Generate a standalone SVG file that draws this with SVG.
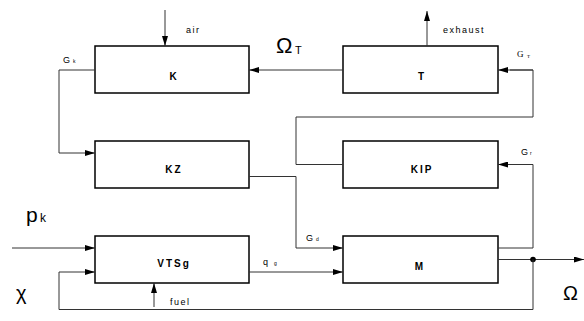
<svg xmlns="http://www.w3.org/2000/svg" width="584" height="321" viewBox="0 0 584 321">
<defs>
<marker id="ah" viewBox="0 0 10 6" refX="10" refY="3" markerWidth="10" markerHeight="6" markerUnits="userSpaceOnUse" orient="auto">
<path d="M0,0 L10,3 L0,6 Z" fill="#000"/>
</marker>
</defs>
<style>
.box{fill:#fff;stroke:#000;stroke-width:1.5}
.lbl{font-family:"Liberation Sans",Arial,sans-serif;font-size:10px;font-weight:bold;letter-spacing:2px;text-anchor:middle;fill:#000}
.ln{fill:none;stroke:#333;stroke-width:1}
.arr{fill:none;stroke:#333;stroke-width:1;marker-end:url(#ah)}
.sm{font-family:"Liberation Sans",Arial,sans-serif;font-size:9px;letter-spacing:1.5px;fill:#000}
.sub{font-family:"Liberation Sans",Arial,sans-serif;font-size:5px;fill:#000}
.big{font-family:"Liberation Sans",Arial,sans-serif;font-size:21px;fill:#000}
.ser{font-family:"Liberation Serif","Times New Roman",serif;font-size:9px;fill:#000}
</style>
<g id="K"><rect class="box" x="95" y="46" width="154" height="47"/><text class="lbl" x="174" y="80">K</text></g>
<g id="T"><rect class="box" x="343" y="46" width="155" height="47"/><text class="lbl" x="422" y="80">T</text></g>
<g id="KZ"><rect class="box" x="95" y="141" width="154" height="47"/><text class="lbl" x="174" y="173">KZ</text></g>
<g id="KIP"><rect class="box" x="343" y="141" width="155" height="47"/><text class="lbl" x="422" y="173">KIP</text></g>
<g id="VTSg"><rect class="box" x="95" y="236" width="154" height="47"/><text class="lbl" x="174" y="267">VTSg</text></g>
<g id="M"><rect class="box" x="343" y="236" width="155" height="47"/><text class="lbl" x="420" y="270">M</text></g>
<g id="connectors">
<line class="arr" x1="165" y1="10" x2="165" y2="46"/>
<line class="arr" x1="427" y1="46" x2="427" y2="11"/>
<line class="arr" x1="343" y1="70" x2="249" y2="70"/>
<polyline class="arr" points="95,70 59,70 59,153 95,153"/>
<polyline class="ln" points="343,164.5 296,164.5 296,117 533,117 533,70 510,70"/>
<line class="arr" x1="533" y1="70" x2="498" y2="70"/>
<polyline class="arr" points="498,248 533,248 533,164.5 498,164.5"/>
<polyline class="arr" points="249,176.5 296,176.5 296,248 343,248"/>
<line class="arr" x1="249" y1="272" x2="343" y2="272"/>
<line class="arr" x1="498" y1="259.5" x2="584" y2="259.5"/>
<circle cx="533" cy="259.5" r="2.8" fill="#000"/>
<polyline class="arr" points="533,259.5 533,309.5 59,309.5 59,272 95,272"/>
<line class="arr" x1="12" y1="248" x2="95" y2="248"/>
<line class="arr" x1="154" y1="307" x2="154" y2="283"/>
</g>
<g id="labels">
<text class="sm" x="186" y="33">air</text>
<text class="sm" x="443" y="33">exhaust</text>
<text class="sm" x="170" y="305">fuel</text>
<text class="big" x="276" y="53" style="font-size:22px">Ω</text><text class="big" x="295" y="54" style="font-size:11px">T</text>
<text class="sm" x="63" y="63" style="letter-spacing:0">G</text><text class="sub" x="73" y="63">k</text>
<text class="ser" x="517" y="57">G</text><text class="sub" x="527" y="58" style="font-family:'Liberation Serif',serif">T</text>
<text class="sm" x="521" y="155" style="letter-spacing:0">G</text><text class="sub" x="530" y="155">r</text>
<text class="sm" x="306" y="241" style="letter-spacing:0">G</text><text class="sub" x="316" y="241">d</text>
<text class="sm" x="263" y="265" style="letter-spacing:0">q</text><text class="sub" x="274" y="265">g</text>
<text class="big" x="26" y="222" style="font-size:21px">p</text><text class="big" x="40" y="222" style="font-size:12px">k</text>
<text class="big" x="16" y="300" style="font-size:20px">χ</text>
<text class="big" x="563" y="300" style="font-size:20px">Ω</text>
</g>
</svg>
